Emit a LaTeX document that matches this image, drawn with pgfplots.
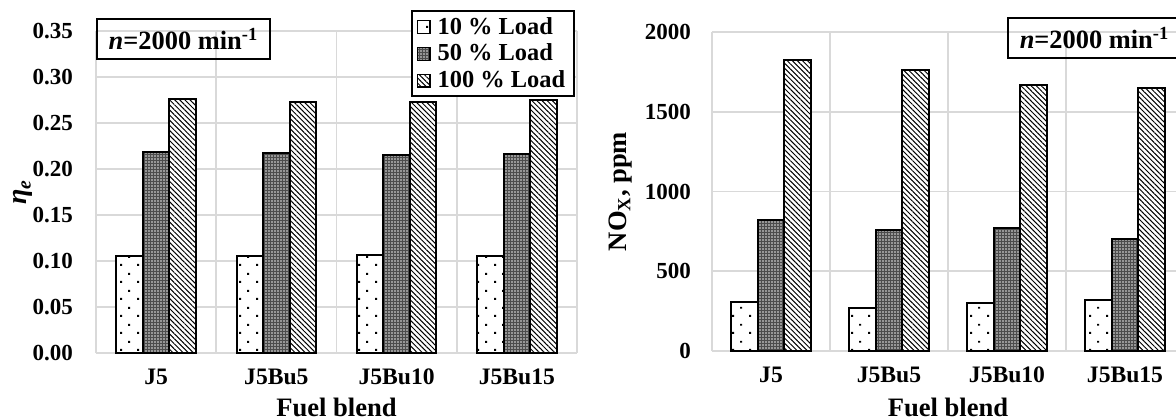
\documentclass[border=0pt]{standalone}
\usepackage{fontspec}
\setmainfont{Liberation Serif}
\usepackage{pgfplots}
\pgfplotsset{compat=1.18}
\usetikzlibrary{patterns.meta}

\tikzdeclarepattern{name=sdots, type=uncolored,
  bounding box={(0pt,0pt) and (8.5pt,8.5pt)}, tile size={(8.5pt,8.5pt)},
  code={\fill (0.6pt,0.6pt) rectangle (1.6pt,1.6pt); \fill (4.85pt,4.85pt) rectangle (5.85pt,5.85pt);}}
\tikzdeclarepattern{name=wdots, type=uncolored,
  bounding box={(0pt,0pt) and (1.4pt,1.4pt)}, tile size={(1.4pt,1.4pt)},
  code={\fill (0.2pt,0.2pt) rectangle (0.85pt,0.85pt);}}

\definecolor{gridgray}{RGB}{217,217,217}

\pgfplotsset{
  mybase/.style={
    scale only axis, ybar=0pt, bar width=13.25pt,
    xmin=-0.5, xmax=3.5, enlarge x limits=false,
    xtick={0,1,2,3}, xticklabels={J5,J5Bu5,J5Bu10,J5Bu15},
    extra x ticks={-0.5,0.5,1.5,2.5,3.5}, extra x tick labels={},
    extra x tick style={grid=major, major tick length=0pt},
    ymajorgrids,
    grid style={draw=gridgray, line width=0.8pt},
    axis line style={draw=none},
    major tick length=0pt,
    tick style={draw=none},
    yticklabel style={font=\fontsize{11.5}{13}\selectfont\bfseries, anchor=east},
    xticklabel style={font=\fontsize{11.8}{13}\selectfont\bfseries, anchor=base, yshift=-15.5pt},
    /pgf/number format/assume math mode=true,
    clip=false,
    legend image code/.code={\draw[##1, line width=0.6pt] (0pt,-3.2pt) rectangle (6.4pt,3.2pt);},
  },
  p10/.style={draw=black, line width=1pt, fill=white, postaction={pattern=sdots}},
  p50/.style={draw=black, line width=1pt, fill=black!70, postaction={pattern=wdots, pattern color=white}},
  p100/.style={draw=black, line width=1pt, fill=white, postaction={pattern={Lines[angle=-45, distance=1.8pt, line width=0.5pt]}}},
}

\pgfplotstableread{
x a b c
0 0.105 0.218 0.276
1 0.105 0.217 0.273
2 0.106 0.215 0.273
3 0.105 0.216 0.275
}\etadata

\pgfplotstableread{
x a b c
0 307 820 1822
1 270 759 1760
2 301 771 1666
3 320 702 1648
}\noxdata

\begin{document}
\begin{tikzpicture}
\useasboundingbox (0,0) rectangle (588pt,209.5pt);
\clip (0,0) rectangle (588pt,209.5pt);

\begin{axis}[mybase, at={(48pt,33pt)}, anchor=south west,
  width=240.5pt, height=161pt,
  ymin=0, ymax=0.35,
  ytick={0,0.05,0.10,0.15,0.20,0.25,0.30,0.35},
  yticklabel style={xshift=-8pt, /pgf/number format/fixed, /pgf/number format/fixed zerofill, /pgf/number format/precision=2},
  ylabel={\bfseries\itshape η\textsubscript{e}},
  ylabel style={at={(axis description cs:-0.118,0.5)}, anchor=south, rotate=0, font=\fontsize{14}{16}\selectfont},
  xlabel={Fuel blend},
  xlabel style={at={(axis description cs:0.5,-0.168)}, anchor=center, font=\fontsize{13.3}{15}\selectfont\bfseries},
  legend style={at={(axis description cs:0.996,1.065)}, anchor=north east, draw=black, line width=1pt,
    font=\fontsize{12.2}{13}\selectfont\bfseries, legend cell align=left, inner xsep=2.5pt, inner ysep=1pt, row sep=-0.6pt,
    /tikz/every odd column/.append style={column sep=1.5pt}},
]
\addplot[p10] table[x=x,y=a] {\etadata};
\addplot[p50] table[x=x,y=b] {\etadata};
\addplot[p100] table[x=x,y=c] {\etadata};
\legend{10 \% Load, 50 \% Load, 100 \% Load}
\node[draw, line width=1pt, anchor=north west, minimum width=86.5pt, minimum height=20pt, inner sep=0pt,
  font=\fontsize{13.2}{15}\selectfont\bfseries] at (axis description cs:0,1.040) {\textit{n}=2000 min\textsuperscript{-1}};
\end{axis}

\begin{axis}[mybase, at={(356pt,34pt)}, anchor=south west,
  width=236pt, height=159.5pt,
  ymin=0, ymax=2000,
  ytick={0,500,1000,1500,2000},
  yticklabel style={xshift=-7pt, /pgf/number format/1000 sep={}},
  ylabel={\bfseries NO\textsubscript{X}, ppm},
  ylabel style={at={(axis description cs:-0.155,0.5)}, anchor=south, font=\fontsize{13.3}{15}\selectfont},
  xlabel={Fuel blend},
  xlabel style={at={(axis description cs:0.5,-0.1755)}, anchor=center, font=\fontsize{13.3}{15}\selectfont\bfseries},
]
\addplot[p10] table[x=x,y=a] {\noxdata};
\addplot[p50] table[x=x,y=b] {\noxdata};
\addplot[p100] table[x=x,y=c] {\noxdata};
\node[draw, line width=1pt, anchor=north west, minimum width=86.5pt, minimum height=20pt, inner sep=0pt,
  font=\fontsize{13.2}{15}\selectfont\bfseries] at (axis description cs:0.625,1.047) {\textit{n}=2000 min\textsuperscript{-1}};
\end{axis}
\end{tikzpicture}
\end{document}
